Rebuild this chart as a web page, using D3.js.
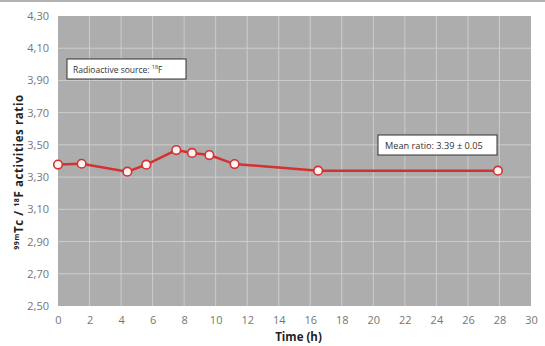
<html>
<head>
<script src="https://d3js.org/d3.v7.min.js"></script>
<style>
  body { margin: 0; background: #fff; }
  text { font-family: "Open Sans", "Noto Sans", sans-serif; }
</style>
</head>
<body>
<svg id="chart" width="545" height="346"></svg>
<script>
// data
var times  = [0, 1.5, 4.4, 5.6, 7.5, 8.5, 9.6, 11.2, 16.5, 27.9];
var ratios = [3.378, 3.383, 3.334, 3.377, 3.468, 3.45, 3.437, 3.381, 3.34, 3.34];
var xTicks = d3.range(0, 31, 2);
var yTicks = [2.5, 2.7, 2.9, 3.1, 3.3, 3.5, 3.7, 3.9, 4.1, 4.3];

var svg = d3.select("#chart");
var pLeft = 58, pRight = 531, pTop = 16, pBottom = 306;

var x = d3.scaleLinear().domain([0, 30]).range([pLeft, pRight]);
var y = d3.scaleLinear().domain([2.5, 4.3]).range([pBottom, pTop]);

// thin rule at the very top
svg.append("line")
  .attr("x1", 0).attr("x2", 545).attr("y1", 1).attr("y2", 1)
  .attr("stroke", "#9a9a9a").attr("stroke-width", 1.5);

// plot background
svg.append("rect")
  .attr("x", pLeft).attr("y", pTop)
  .attr("width", pRight - pLeft).attr("height", pBottom - pTop)
  .attr("fill", "#adadad");

// grid
svg.append("g").selectAll("line").data(xTicks.slice(1, -1)).enter().append("line")
  .attr("x1", d => x(d)).attr("x2", d => x(d))
  .attr("y1", pTop).attr("y2", pBottom)
  .attr("stroke", "#cdcdcd").attr("stroke-width", 1);
svg.append("g").selectAll("line").data(yTicks.slice(1, -1)).enter().append("line")
  .attr("x1", pLeft).attr("x2", pRight)
  .attr("y1", d => y(d)).attr("y2", d => y(d))
  .attr("stroke", "#cdcdcd").attr("stroke-width", 1);

// axes (labels only)
var fmt = d => d3.format(".2f")(d).replace(".", ",");
var yAxis = svg.append("g")
  .attr("transform", "translate(" + pLeft + ",0)")
  .call(d3.axisLeft(y).tickValues(yTicks).tickFormat(fmt).tickSize(0).tickPadding(9));
var xAxis = svg.append("g")
  .attr("transform", "translate(0," + pBottom + ")")
  .call(d3.axisBottom(x).tickValues(xTicks).tickSize(0).tickPadding(10));
[yAxis, xAxis].forEach(function(a) {
  a.select(".domain").remove();
  a.selectAll("text")
    .attr("fill", "#767676")
    .style("font-size", "11px")
    .style("font-family", "'Open Sans', sans-serif");
});

// axis titles
svg.append("text")
  .attr("x", x(15) + 4).attr("y", 341)
  .attr("text-anchor", "middle")
  .style("font-weight", "bold").style("font-size", "11.5px")
  .attr("fill", "#222")
  .text("Time  (h)");

var yt = svg.append("text")
  .attr("transform", "translate(23,172) rotate(-90)")
  .attr("text-anchor", "middle")
  .style("font-weight", "bold").style("font-size", "11.5px")
  .style("letter-spacing", "0.6px")
  .attr("fill", "#222");
yt.append("tspan").attr("baseline-shift", "super").style("font-size", "7px").text("99m");
yt.append("tspan").text("Tc  /  ");
yt.append("tspan").attr("baseline-shift", "super").style("font-size", "7px").text("18");
yt.append("tspan").text("F  activities  ratio");

// series line
var pts = times.map((t, i) => [t, ratios[i]]);
svg.append("path")
  .datum(pts)
  .attr("fill", "none")
  .attr("stroke", "#d23232")
  .attr("stroke-width", 2.5)
  .attr("d", d3.line().x(d => x(d[0])).y(d => y(d[1])));

svg.append("g").selectAll("circle").data(pts).enter().append("circle")
  .attr("cx", d => x(d[0])).attr("cy", d => y(d[1]))
  .attr("r", 4.3)
  .attr("fill", "#fff4f4")
  .attr("stroke", "#d23232").attr("stroke-width", 1.6);

// annotation boxes
svg.append("rect")
  .attr("x", 67).attr("y", 59).attr("width", 119).attr("height", 20)
  .attr("fill", "#fff").attr("stroke", "#333").attr("stroke-width", 1);
var t1 = svg.append("text")
  .attr("x", 73).attr("y", 73)
  .style("font-size", "8.5px").attr("fill", "#333");
t1.append("tspan").text("Radioactive source: ");
t1.append("tspan").attr("baseline-shift", "super").style("font-size", "5.5px").text("18");
t1.append("tspan").text("F");

svg.append("rect")
  .attr("x", 378).attr("y", 135).attr("width", 119).attr("height", 20)
  .attr("fill", "#fff").attr("stroke", "#333").attr("stroke-width", 1);
svg.append("text")
  .attr("x", 385).attr("y", 149)
  .style("font-size", "9.2px").attr("fill", "#333")
  .text("Mean ratio: 3.39 \u00b1 0.05");
</script>
</body>
</html>
